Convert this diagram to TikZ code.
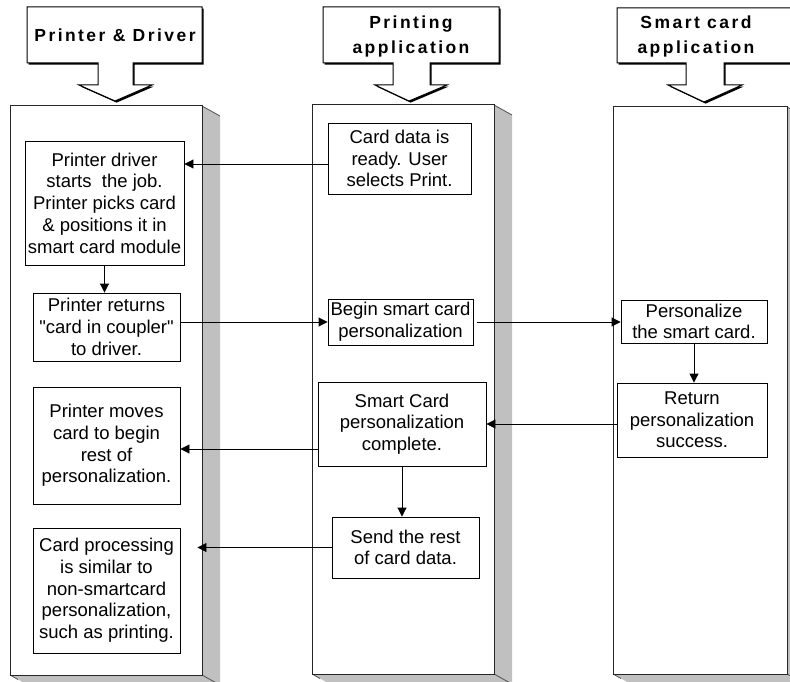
\documentclass[tikz,border=0pt]{standalone}
\usepackage{fontspec}
\setmainfont{Liberation Sans}
\newfontfamily\qfont{Liberation Sans}
\newfontfamily\headfont{Liberation Sans}[LetterSpace=14]
\usetikzlibrary{arrows.meta}
\definecolor{sidegray}{RGB}{192,192,192}
\definecolor{edgegray}{RGB}{80,80,80}
\newcommand\drawpanel[4]{%
  \fill[sidegray] (#2,#3) -- (#2+18,#3+10) -- (#2+18,#4+10) -- (#1+18,#4+10) -- (#1,#4) -- cycle;
  \draw[panelline] (#2,#3) -- (#2+18,#3+10);
  \draw[panelline] (#2,#4) -- (#2+18,#4+10);
  \draw[panelline] (#1,#4) -- (#1+8,#4+4.5);
  \draw[panel] (#1,#3) rectangle (#2,#4);
}
\begin{document}
\begin{tikzpicture}[x=1pt,y=-1pt,
  box/.style={draw=black, line width=0.9pt, fill=white, inner sep=0pt, align=center,
    font=\fontsize{18.5}{21.7}\selectfont},
  arr/.style={draw=black, line width=0.9pt, -{Triangle[length=9pt,width=9pt]}},
  panel/.style={draw=black!85, line width=1pt, fill=white},
  panelline/.style={draw=edgegray, line width=0.8pt},
  hdr/.style={draw=black, line width=1pt, fill=white, line join=miter},
  hdrshadow/.style={fill=black, shift={(1.6,1.6)}},
  head/.style={font=\headfont\bfseries\fontsize{17.5}{25}\selectfont, align=center, inner sep=0pt},
]
\useasboundingbox (0,0) rectangle (790,682);
\clip (0,0) rectangle (790,682);

% panels
\drawpanel{10}{202}{106}{675}
\drawpanel{312}{494}{105}{674}
\drawpanel{613}{787}{107}{674}

% headers
\fill[hdrshadow] (27,7) -- (202,7) -- (202,63) -- (133,63) -- (133,85) -- (152,85) -- (115,101) -- (79,85) -- (98,85) -- (98,63) -- (27,63) -- cycle;
\draw[hdr] (27,7) -- (202,7) -- (202,63) -- (133,63) -- (133,85) -- (152,85) -- (115,101) -- (79,85) -- (98,85) -- (98,63) -- (27,63) -- cycle;
\fill[hdrshadow] (323,7) -- (499,7) -- (499,63) -- (430,63) -- (430,85) -- (447,85) -- (409,101) -- (375,85) -- (393,85) -- (393,63) -- (323,63) -- cycle;
\draw[hdr] (323,7) -- (499,7) -- (499,63) -- (430,63) -- (430,85) -- (447,85) -- (409,101) -- (375,85) -- (393,85) -- (393,63) -- (323,63) -- cycle;
\fill[hdrshadow] (617,8) -- (796,8) -- (796,63) -- (724,63) -- (724,85) -- (742,85) -- (704,102) -- (668,85) -- (686,85) -- (686,63) -- (617,63) -- cycle;
\draw[hdr] (617,8) -- (796,8) -- (796,63) -- (724,63) -- (724,85) -- (742,85) -- (704,102) -- (668,85) -- (686,85) -- (686,63) -- (617,63) -- cycle;

\node[head] (h1) at (115,35) {Printer \& Driver};
\node[head] (h2) at (411,36) {Printing\\application};
\node[head] (h3) at (696,36) {Smart card\\application};

% left column
\node[box, minimum width=159, minimum height=124] (B1) at (104.5,203)
  {Printer driver\\starts\ \ the job.\\Printer picks card\\\&\ positions it in\\smart card module};
\node[box, minimum width=147, minimum height=68] (B2) at (106.5,327)
  {Printer returns\\{\qfont"}card in coupler{\qfont"}\\to driver.};
\node[box, minimum width=147, minimum height=117] (B3) at (106.5,445.5)
  {Printer moves\\card to begin\\rest of\\personalization.};
\node[box, minimum width=147, minimum height=125] (B4) at (106.5,590.5)
  {Card processing\\is similar to\\non-smartcard\\personalization,\\such as printing.};

% middle column
\node[box, minimum width=143, minimum height=71] (M1) at (399.5,158.5)
  {Card data is\\ready. User\\selects Print.};
\node[box, minimum width=145, minimum height=46] (M2) at (400.5,322)
  {Begin smart card\\personalization};
\node[box, minimum width=168, minimum height=84] (M3) at (402,424)
  {Smart Card\\personalization\\complete.};
\node[box, minimum width=147, minimum height=61] (M4) at (405.5,547.5)
  {Send the rest\\of card data.};

% right column
\node[box, minimum width=146, minimum height=43] (R1) at (694,321.5)
  {Personalize\\the smart card.};
\node[box, minimum width=150, minimum height=74] (R2) at (692,420)
  {Return\\personalization\\success.};

% connectors
\coordinate (m1w) at ([yshift=-5.5pt]M1.west);
\draw[arr] (m1w) -- (m1w -| B1.east);
\draw[arr] (B1.south) -- (B1.south |- B2.north);
\draw[arr] (M2.west -| B2.east) -- (M2.west);
\coordinate (m2e) at ([xshift=4pt]M2.east);
\draw[arr] (m2e) -- (m2e -| R1.west);
\draw[arr] (R1.south) -- (R1.south |- R2.north);
\draw[arr] (R2.west |- M3.east) -- (M3.east);
\coordinate (b3e) at ([yshift=-3.5pt]B3.east);
\draw[arr] (b3e -| M3.west) -- (b3e);
\draw[arr] (M3.south) -- (M3.south |- M4.north);
\coordinate (b4end) at ([xshift=17pt]B4.east);
\draw[arr] (M4.west) -- (b4end |- M4.west);
\end{tikzpicture}
\end{document}
